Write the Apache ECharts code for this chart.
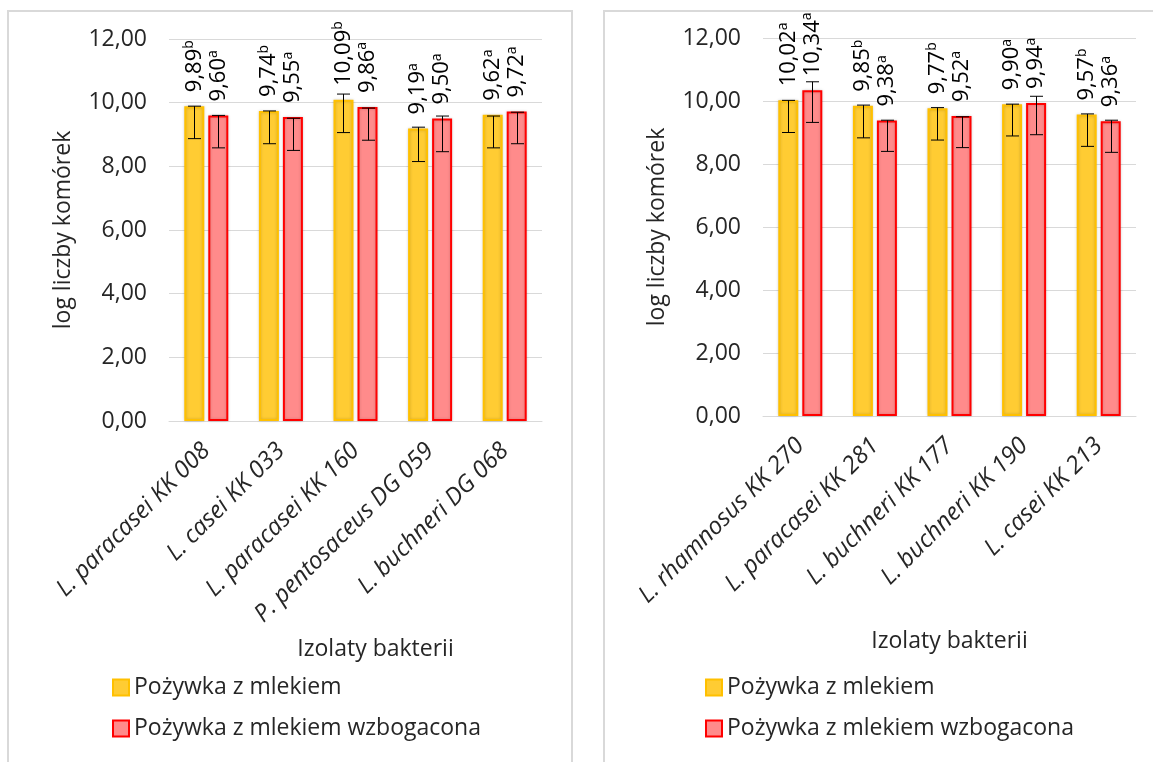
<!DOCTYPE html>
<html>
<head>
<meta charset="utf-8">
<script src="https://cdn.jsdelivr.net/npm/echarts@6/dist/echarts.min.js"></script>
<style>
  html, body { margin: 0; padding: 0; width: 1153px; height: 762px; overflow: hidden; background: #fff; }
  .panel { position: absolute; top: 11px; height: 760px; }
  .frame { position: absolute; top: 10px; height: 780px; border: 2px solid #d9d9d9; box-sizing: border-box; pointer-events: none; }
</style>
</head>
<body>
<div id="left" class="panel" style="left:8px;width:563px"></div>
<div id="right" class="panel" style="left:604px;width:560px"></div>
<div class="frame" style="left:7px;width:566px"></div>
<div class="frame" style="left:603px;width:580px"></div>
<script>
// ---- data: left panel ----
const leftCategories = ['L. paracasei KK 008', 'L. casei KK 033', 'L. paracasei KK 160', 'P. pentosaceus DG 059', 'L. buchneri DG 068'];
const leftMilk = [9.89, 9.74, 10.09, 9.19, 9.62];
const leftMilkSig = ['b', 'b', 'b', 'a', 'a'];
const leftMilkErrLow = [8.87, 8.71, 9.06, 8.15, 8.58];
const leftMilkErrHigh = [9.89, 9.74, 10.27, 9.23, 9.58];
const leftEnriched = [9.60, 9.55, 9.86, 9.50, 9.72];
const leftEnrichedSig = ['a', 'a', 'a', 'a', 'a'];
const leftEnrichedErrLow = [8.58, 8.50, 8.82, 8.46, 8.71];
const leftEnrichedErrHigh = [9.60, 9.51, 9.83, 9.58, 9.70];

// ---- data: right panel ----
const rightCategories = ['L. rhamnosus KK 270', 'L. paracasei KK 281', 'L. buchneri KK 177', 'L. buchneri KK 190', 'L. casei KK 213'];
const rightMilk = [10.02, 9.85, 9.77, 9.90, 9.57];
const rightMilkSig = ['a', 'b', 'b', 'a', 'b'];
const rightMilkErrLow = [9.00, 8.83, 8.76, 8.89, 8.56];
const rightMilkErrHigh = [10.02, 9.87, 9.79, 9.90, 9.59];
const rightEnriched = [10.34, 9.38, 9.52, 9.94, 9.36];
const rightEnrichedSig = ['a', 'a', 'a', 'a', 'a'];
const rightEnrichedErrLow = [9.32, 8.40, 8.52, 8.93, 8.37];
const rightEnrichedErrHigh = [10.61, 9.39, 9.50, 10.15, 9.39];

// ---- axis / legend text ----
const yTicks = [0, 2, 4, 6, 8, 10, 12];
const yAxisTitle = 'log liczby komórek';
const xAxisTitle = 'Izolaty bakterii';
const seriesNames = ['Pożywka z mlekiem', 'Pożywka z mlekiem wzbogacona'];

const FONT = '"Open Sans", Carlito, Calibri, sans-serif';
const TEXT = '#262626';
const GRID = '#d9d9d9';
const CAT_GAP = 0.41;   // share of the category band left empty
const BAR_GAP = 0.2;    // gap between the two bars, relative to bar width

const comma = v => v.toFixed(2).replace('.', ',');

function errorSeries(lo, hi, side) {
  return {
    type: 'custom',
    silent: true,
    z: 5,
    encode: { x: 0, y: [1, 2] },
    data: lo.map((l, i) => [i, l, hi[i]]),
    renderItem: (params, api) => {
      const band = api.size([1, 0])[0];
      const barW = band * (1 - CAT_GAP) / (2 + BAR_GAP);
      const off = side * barW * (1 + BAR_GAP) / 2;
      const top = api.coord([api.value(0), api.value(2)]);
      const bot = api.coord([api.value(0), api.value(1)]);
      const x = Math.round(top[0] + off) + 0.5;
      const cap = 6.5;
      const st = { stroke: '#000', lineWidth: 1 };
      return {
        type: 'group',
        children: [
          { type: 'line', shape: { x1: x, y1: top[1], x2: x, y2: bot[1] }, style: st },
          { type: 'line', shape: { x1: x - cap, y1: top[1], x2: x + cap, y2: top[1] }, style: st },
          { type: 'line', shape: { x1: x - cap, y1: bot[1], x2: x + cap, y2: bot[1] }, style: st }
        ]
      };
    }
  };
}

function barSeries(name, values, sig, fill, border) {
  return {
    name: name,
    type: 'bar',
    data: values,
    barGap: (BAR_GAP * 100) + '%',
    barCategoryGap: (CAT_GAP * 100) + '%',
    itemStyle: { color: fill, borderColor: border, borderWidth: 2, shadowColor: 'rgba(0,0,0,0.18)', shadowBlur: 3 },
    label: {
      show: true,
      position: 'top',
      distance: 14,
      rotate: 90,
      align: 'left',
      verticalAlign: 'middle',
      formatter: p => '{v|' + comma(p.value) + '}{s|' + sig[p.dataIndex] + '}',
      rich: {
        v: { fontFamily: FONT, fontSize: 22, color: '#000', lineHeight: 24 },
        s: { fontFamily: FONT, fontSize: 14, color: '#000', verticalAlign: 'top', lineHeight: 24 }
      }
    }
  };
}

function buildOption(cats, milk, milkSig, milkLo, milkHi, enr, enrSig, enrLo, enrHi, g) {
  return {
    animation: false,
    textStyle: { fontFamily: FONT },
    grid: { left: g.left, top: g.top, width: 373, height: g.height },
    legend: {
      data: seriesNames,
      orient: 'vertical',
      left: g.legendLeft,
      top: 660,
      itemWidth: 16,
      itemHeight: 16,
      itemGap: 18,
      icon: 'rect',
      textStyle: { fontFamily: FONT, fontSize: 23, color: TEXT }
    },
    xAxis: {
      type: 'category',
      data: cats,
      axisLine: { lineStyle: { color: GRID, width: 1 } },
      axisTick: { show: false },
      axisLabel: { rotate: 45, margin: 26, fontFamily: FONT, fontStyle: 'italic', fontSize: 24, color: TEXT, interval: 0 },
      name: xAxisTitle,
      nameLocation: 'middle',
      nameGap: g.titleGap,
      nameTextStyle: { fontFamily: FONT, fontSize: 23, color: TEXT, padding: [0, 0, 0, g.titleShift] }
    },
    yAxis: {
      type: 'value',
      min: yTicks[0],
      max: yTicks[yTicks.length - 1],
      interval: yTicks[1] - yTicks[0],
      axisLine: { show: false },
      axisTick: { show: false },
      splitLine: { lineStyle: { color: GRID, width: 1 } },
      axisLabel: { margin: 22, fontFamily: FONT, fontSize: 23, color: TEXT, formatter: v => comma(v) },
      name: yAxisTitle,
      nameLocation: 'middle',
      nameRotate: 90,
      nameGap: 94,
      nameTextStyle: { fontFamily: FONT, fontSize: 23, color: TEXT }
    },
    series: [
      barSeries(seriesNames[0], milk, milkSig, '#ffcc33', '#ffc000'),
      barSeries(seriesNames[1], enr, enrSig, '#ff8b8b', '#ff0000'),
      errorSeries(milkLo, milkHi, -1),
      errorSeries(enrLo, enrHi, 1)
    ]
  };
}

echarts.init(document.getElementById('left')).setOption(buildOption(
  leftCategories, leftMilk, leftMilkSig, leftMilkErrLow, leftMilkErrHigh,
  leftEnriched, leftEnrichedSig, leftEnrichedErrLow, leftEnrichedErrHigh,
  { left: 161, top: 28, height: 382, legendLeft: 99, titleGap: 217, titleShift: 40 }
));

echarts.init(document.getElementById('right')).setOption(buildOption(
  rightCategories, rightMilk, rightMilkSig, rightMilkErrLow, rightMilkErrHigh,
  rightEnriched, rightEnrichedSig, rightEnrichedErrLow, rightEnrichedErrHigh,
  { left: 159, top: 27, height: 378, legendLeft: 96, titleGap: 214, titleShift: 0 }
));
</script>
</body>
</html>
